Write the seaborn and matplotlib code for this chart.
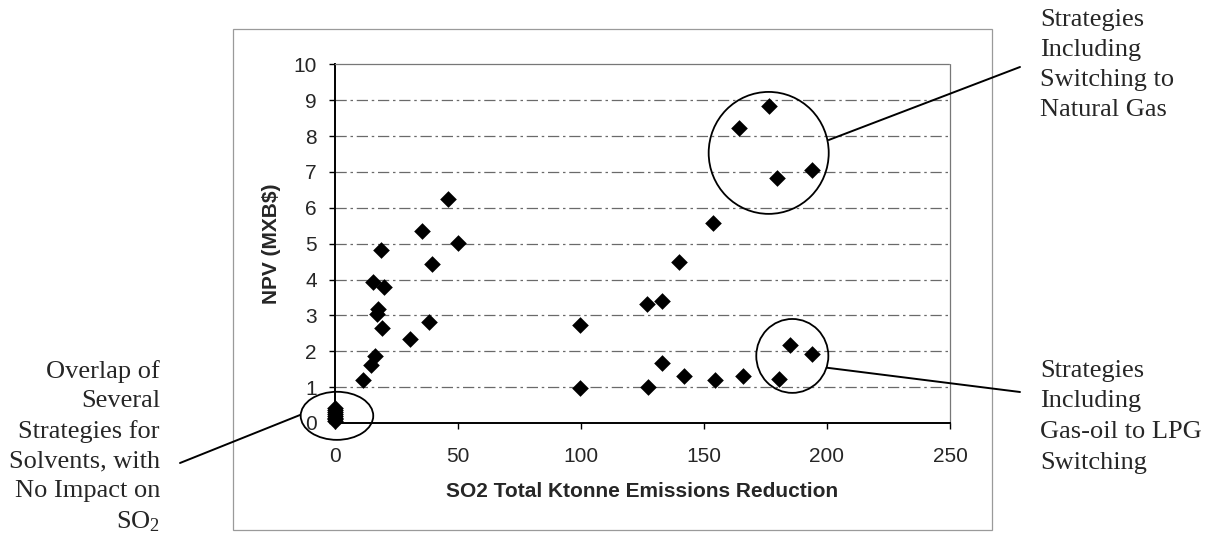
import numpy as np
import pandas as pd
import matplotlib
matplotlib.use("Agg")
import matplotlib.pyplot as plt
import seaborn as sns
from matplotlib.patches import Ellipse, Rectangle
from matplotlib.lines import Line2D

# ---- data ----
so2_reduction = [0, 0, 0, 0, 0, 0, 0, 0,
                 11.3, 14.5, 16.3, 15.3, 19.9, 18.6, 17.6, 17.2, 19.2, 30.5,
                 38.2, 35.2, 39.3, 46.1, 49.9,
                 99.6, 99.6,
                 176.4, 164.4, 179.7, 194.0, 153.8, 139.7, 126.8, 133.1,
                 185.0, 194.0, 133.1, 142.0, 154.5, 165.7, 180.5, 127.4]
npv = [0.05, 0.10, 0.15, 0.20, 0.25, 0.30, 0.35, 0.42,
       1.20, 1.63, 1.87, 3.92, 3.80, 4.82, 3.17, 3.05, 2.66, 2.34,
       2.82, 5.35, 4.42, 6.24, 5.03,
       2.73, 0.98,
       8.83, 8.23, 6.82, 7.05, 5.58, 4.49, 3.31, 3.40,
       2.17, 1.91, 1.66, 1.31, 1.20, 1.31, 1.22, 0.99]

x_ticks = [0, 50, 100, 150, 200, 250]
y_ticks = list(range(0, 11))
x_label = "SO2 Total Ktonne Emissions Reduction"
y_label = "NPV (MXB$)"

label_ng = "Strategies\nIncluding\nSwitching to\nNatural Gas"
label_lpg = "Strategies\nIncluding\nGas-oil to LPG\nSwitching"
label_solv = "Overlap of\nSeveral\nStrategies for\nSolvents, with\nNo Impact on\nSO$_2$"

df = pd.DataFrame({"so2": so2_reduction, "npv": npv})

sns.set_theme(style="white")
plt.rcParams["font.family"] = ["Liberation Sans", "DejaVu Sans"]
plt.rcParams["mathtext.fontset"] = "custom"
plt.rcParams["mathtext.rm"] = "Liberation Serif"
plt.rcParams["mathtext.it"] = "Liberation Serif:italic"

W, H = 1210, 537
fig = plt.figure(figsize=(W / 100, H / 100), dpi=100)
fig.patch.set_facecolor("white")
ax = fig.add_axes([335 / W, 1 - 423 / H, (950 - 335) / W, (423 - 64.3) / H])

sns.scatterplot(data=df, x="so2", y="npv", marker="D", color="black",
                s=72, edgecolor="black", linewidth=0, ax=ax,
                clip_on=False, zorder=4, legend=False)

ax.set_xlim(0, 250)
ax.set_ylim(0, 10)
ax.set_xticks(x_ticks)
ax.set_yticks(y_ticks)
ax.set_xticklabels([str(v) for v in x_ticks], fontsize=15)
ax.set_yticklabels([str(v) for v in y_ticks], fontsize=15)
ax.tick_params(axis="x", direction="out", length=4, width=1, color="black", pad=13, bottom=True)
ax.tick_params(axis="y", direction="out", length=4, width=1, color="black", pad=9, left=True)

ax.set_xlabel(x_label, fontsize=15, fontweight="bold")
ax.set_ylabel(y_label, fontsize=15, fontweight="bold")
ax.xaxis.set_label_coords(0.5, -(482 - 423) / (423 - 64.3))
ax.yaxis.set_label_coords(-(335 - 281) / 615, 0.5)

# gridlines
for yv in y_ticks[1:-1]:
    ax.axhline(yv, color="#6a6a6a", lw=0.9, ls=(0, (9, 3, 2, 3)), zorder=1)

for side in ["left", "bottom"]:
    ax.spines[side].set_color("black")
    ax.spines[side].set_linewidth(1.4)
for side in ["top", "right"]:
    ax.spines[side].set_color("#777777")
    ax.spines[side].set_linewidth(0.9)
    ax.spines[side].set_linestyle((0, (1, 1)))

# ellipses (data coordinates)
ax.add_patch(Ellipse((176.3, 7.53), 48.8, 3.4, fill=False, ec="black", lw=1.3, clip_on=False, zorder=3))
ax.add_patch(Ellipse((185.9, 1.87), 29.3, 2.06, fill=False, ec="black", lw=1.3, clip_on=False, zorder=3))
ax.add_patch(Ellipse((0.8, 0.2), 29.5, 1.34, fill=False, ec="black", lw=1.3, clip_on=False, zorder=3))

# outer frame
fig.add_artist(Rectangle((233 / W, 1 - 530 / H), (992 - 233) / W, (530 - 29) / H,
                         transform=fig.transFigure, fill=False, ec="#9a9a9a", lw=0.9))

def fl(p1, p2):
    fig.add_artist(Line2D([p1[0] / W, p2[0] / W], [1 - p1[1] / H, 1 - p2[1] / H],
                          transform=fig.transFigure, color="black", lw=1.4))

fl((828.7, 140), (1020, 67))
fl((826.7, 367.7), (1020, 392))
fl((300, 415), (180, 463))

serif = ["Liberation Serif", "DejaVu Serif"]
fig.text(1040 / W, 1 - 9 / H, label_ng, family=serif, fontsize=19, ha="left", va="top", linespacing=1.48)
fig.text(1040 / W, 1 - 360 / H, label_lpg, family=serif, fontsize=19, ha="left", va="top", linespacing=1.5)
fig.text(160 / W, 1 - 360 / H, label_solv, family=serif, fontsize=19, ha="right", va="top",
         multialignment="right", linespacing=1.43)

fig.savefig("out.png", dpi=100, facecolor="white")
